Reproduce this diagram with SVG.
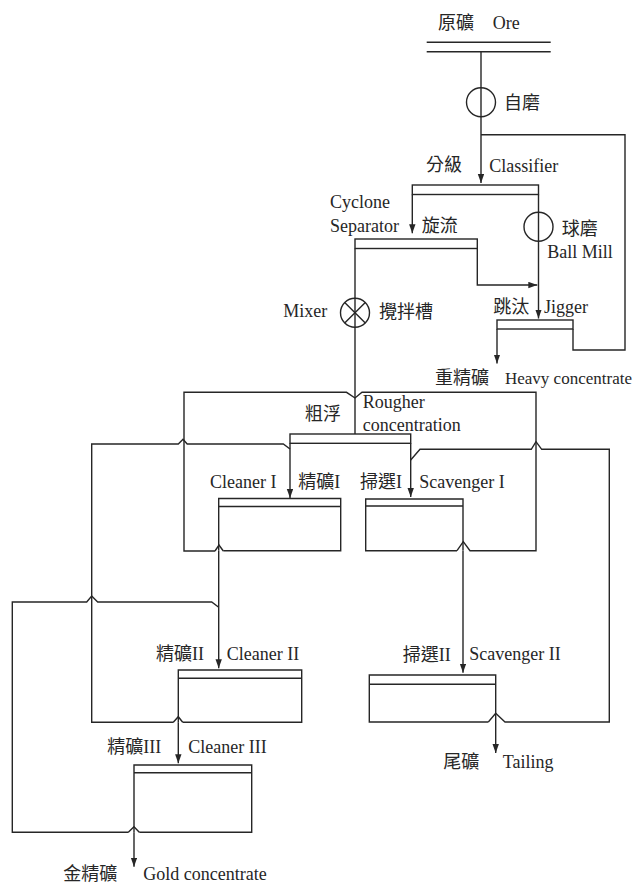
<svg xmlns="http://www.w3.org/2000/svg" width="643" height="884" viewBox="0 0 643 884">
<style>
  .ln{fill:none;stroke:#262626;stroke-width:1.4;stroke-linejoin:miter}
  .bx{fill:none;stroke:#262626;stroke-width:1.4}
  .t{font-family:"Liberation Serif","Noto Sans CJK TC",serif;font-size:18px;fill:#262626}
  .s{font-size:17px}
</style>
<defs>
  <marker id="ah" markerUnits="userSpaceOnUse" markerWidth="10" markerHeight="7" refX="9" refY="3.2" orient="auto">
    <path d="M0,0 L9,3.2 L0,6.4 z" fill="#262626"/>
  </marker>
</defs>
<rect width="643" height="884" fill="#fff"/>

<g id="connectors">
  <path class="ln" d="M481,52 V183" marker-end="url(#ah)"/>
  <path class="ln" d="M573,329 V350 H625 V134.7 H481"/>
  <path class="ln" d="M412.3,194.5 V233.3" marker-end="url(#ah)"/>
  <path class="ln" d="M538.5,194.5 V318.5" marker-end="url(#ah)"/>
  <path class="ln" d="M477.3,248.5 V285 H537.3" marker-end="url(#ah)"/>
  <path class="ln" d="M355,248.5 V434"/>
  <path class="ln" d="M497,329 V363.5" marker-end="url(#ah)"/>
  <path class="ln" d="M290,443.3 V498" marker-end="url(#ah)"/>
  <path class="ln" d="M410.7,443.3 V497" marker-end="url(#ah)"/>
  <path class="ln" d="M215,551 L219,545 L223.3,551 M215,551 H184 V392.3 H346.5 L355,398 L362,392.3 H536 V550.7 H470 L463.3,541.7 L457,550.7"/>
  <path class="ln" d="M173.3,722.3 L178.3,716.7 L182.7,722.3 M173.3,722.3 H91.7 V444 H178.3 L183,439.3 L187.2,444 H283.3 L290,449"/>
  <path class="ln" d="M128.3,832.3 L134,826.7 L139.3,832.3 M128.3,832.3 H12.3 V602 H86.7 L91.7,596 L97.7,602 H211.7 L218.7,607.3"/>
  <path class="ln" d="M488.3,722 L495.7,713.3 L505,722 H609.3 V449.3 H541.7 L536,441.7 L531.3,449.3 H420 L410.7,460"/>
  <path class="ln" d="M218.7,551 V668.3" marker-end="url(#ah)"/>
  <path class="ln" d="M463,551 V672.7" marker-end="url(#ah)"/>
  <path class="ln" d="M178.3,722.3 V763.3" marker-end="url(#ah)"/>
  <path class="ln" d="M495.7,722 V753" marker-end="url(#ah)"/>
  <path class="ln" d="M134,832.3 V866.7" marker-end="url(#ah)"/>
</g>

<g id="ore">
  <line class="bx" x1="426.7" y1="42.3" x2="550.7" y2="42.3"/>
  <line class="bx" x1="426.7" y1="51.7" x2="550.7" y2="51.7"/>
  <text class="t" x="438" y="29">原礦</text>
  <text class="t" x="492.7" y="29">Ore</text>
</g>

<g id="ag-mill">
  <circle class="bx" cx="481" cy="102.3" r="14.5"/>
  <text class="t" x="504" y="108.5">自磨</text>
</g>

<g id="classifier">
  <rect class="bx" x="412.3" y="185" width="126.2" height="9.5"/>
  <text class="t" x="426" y="171">分級</text>
  <text class="t" x="489.3" y="171.5">Classifier</text>
</g>

<g id="ball-mill">
  <circle class="bx" cx="538.5" cy="226.7" r="14.5"/>
  <text class="t" x="561.7" y="235">球磨</text>
  <text class="t" x="547.3" y="258.3">Ball Mill</text>
</g>

<g id="cyclone">
  <rect class="bx" x="355" y="239" width="122.3" height="9.5"/>
  <text class="t" x="330" y="208.3">Cyclone</text>
  <text class="t" x="330" y="231.7">Separator</text>
  <text class="t" x="421.7" y="231.7">旋流</text>
</g>

<g id="mixer">
  <circle class="bx" cx="355" cy="312.7" r="14.5"/>
  <path class="bx" d="M344.7,302.4 L365.3,323 M365.3,302.4 L344.7,323"/>
  <text class="t" x="283.3" y="317.3">Mixer</text>
  <text class="t" x="379" y="318">攪拌槽</text>
</g>

<g id="jigger">
  <rect class="bx" x="497" y="320" width="76" height="9"/>
  <text class="t" x="493.3" y="313">跳汰</text>
  <text class="t" x="544" y="312.7">Jigger</text>
</g>

<g id="heavy-concentrate">
  <text class="t" x="435" y="384">重精礦</text>
  <text class="t s" x="505" y="384">Heavy concentrate</text>
</g>

<g id="rougher">
  <rect class="bx" x="290" y="434" width="120.7" height="9.3"/>
  <text class="t" x="305" y="420">粗浮</text>
  <text class="t" x="362.7" y="408">Rougher</text>
  <text class="t" x="362.7" y="430.5">concentration</text>
</g>

<g id="cleaner-1">
  <path class="bx" d="M223.3,550.7 H340.7 V498.5 H218.7 V550.7 M218.7,506.5 H340.7"/>
  <text class="t" x="210" y="488">Cleaner I</text>
  <text class="t" x="298.3" y="488">精礦I</text>
</g>

<g id="scavenger-1">
  <path class="bx" d="M457,550.7 H365.7 V499 H463 V550.7 M365.7,506 H463"/>
  <text class="t" x="360" y="488">掃選I</text>
  <text class="t" x="419.3" y="488">Scavenger I</text>
</g>

<g id="cleaner-2">
  <path class="bx" d="M182.7,722.3 H301.7 V670 H178.3 V722.3 M178.3,678.3 H301.7"/>
  <text class="t" x="156" y="660">精礦II</text>
  <text class="t" x="226.7" y="660">Cleaner II</text>
</g>

<g id="scavenger-2">
  <path class="bx" d="M488.3,722 H369.3 V675 H495.7 V722 M369.3,684.3 H495.7"/>
  <text class="t" x="402.7" y="660.7">掃選II</text>
  <text class="t" x="469.3" y="660">Scavenger II</text>
</g>

<g id="cleaner-3">
  <path class="bx" d="M139.3,832.3 H251.7 V765 H134 V832.3 M134,772.7 H251.7"/>
  <text class="t" x="107.3" y="753">精礦III</text>
  <text class="t" x="188.3" y="753">Cleaner III</text>
</g>

<g id="tailing">
  <text class="t" x="443.3" y="768">尾礦</text>
  <text class="t" x="502.7" y="768">Tailing</text>
</g>

<g id="gold-concentrate">
  <text class="t" x="63.3" y="880">金精礦</text>
  <text class="t" x="143.3" y="880">Gold concentrate</text>
</g>
</svg>
